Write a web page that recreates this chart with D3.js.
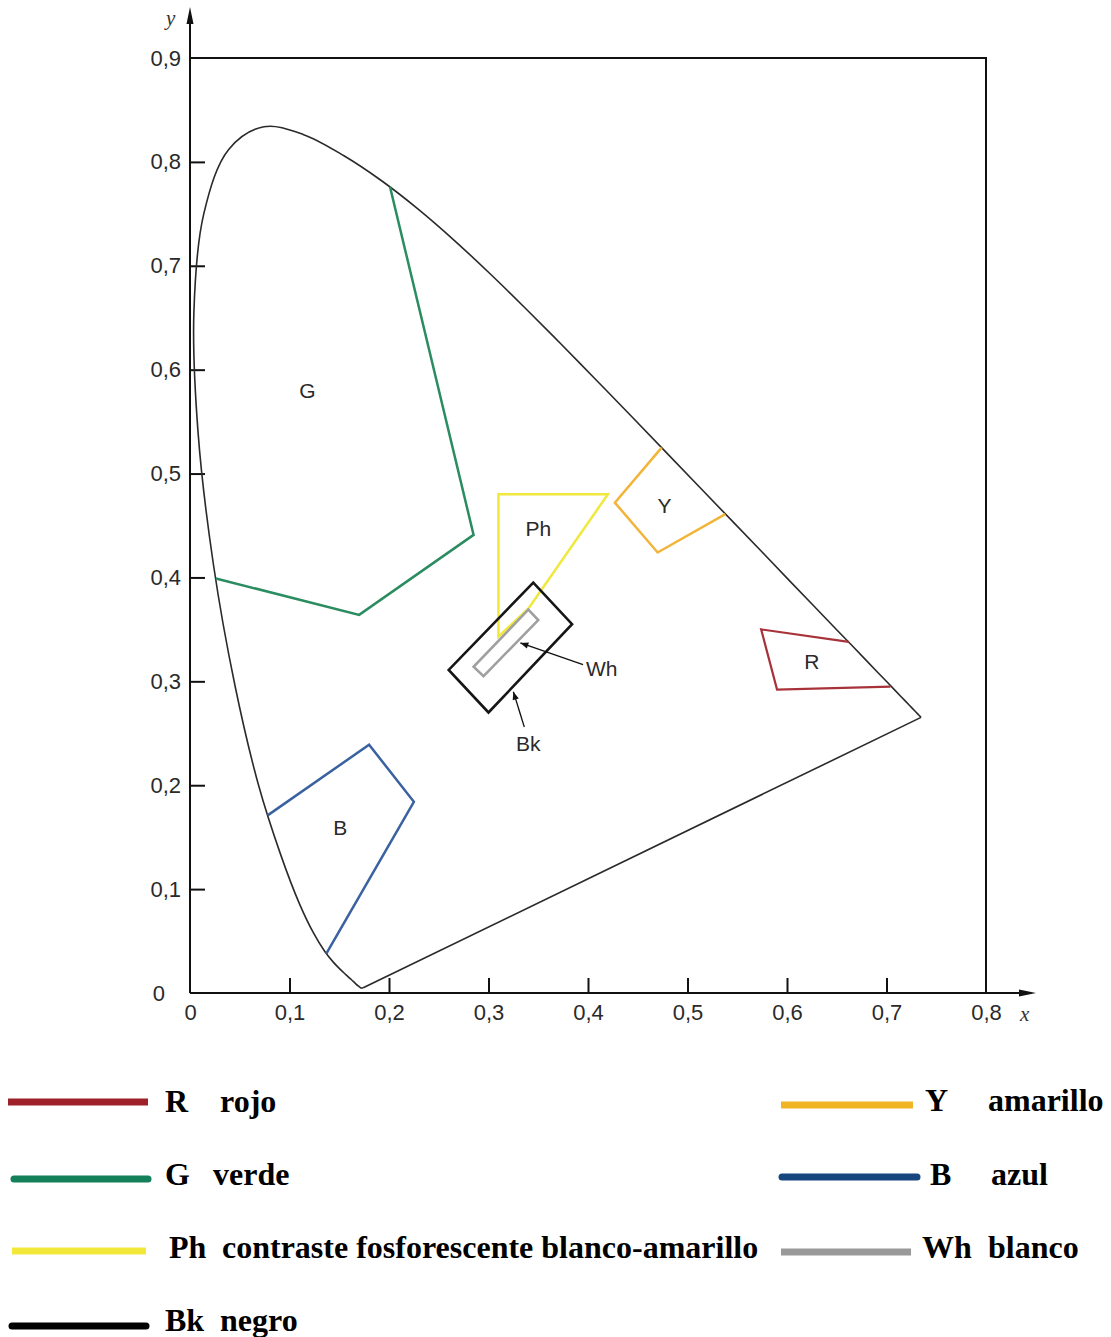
<!DOCTYPE html>
<html>
<head>
<meta charset="utf-8">
<script src="https://cdn.jsdelivr.net/npm/d3@7"></script>
<style>
  html, body { margin: 0; padding: 0; background: #fff; }
  svg { display: block; }
</style>
</head>
<body>
<svg id="chart" width="1111" height="1337"></svg>
<script>
// ---------------- DATA ----------------
// CIE 1931 spectral locus (380–700 nm, 5 nm steps)
const locusX = [0.1741,0.1740,0.1738,0.1736,0.1733,0.1730,0.1726,0.1721,0.1714,0.1703,0.1689,0.1669,0.1644,0.1611,0.1566,0.1510,0.1440,0.1355,0.1241,0.1096,0.0913,0.0687,0.0454,0.0235,0.0082,0.0039,0.0139,0.0389,0.0743,0.1142,0.1547,0.1929,0.2296,0.2658,0.3016,0.3373,0.3731,0.4087,0.4441,0.4788,0.5125,0.5448,0.5752,0.6029,0.6270,0.6482,0.6658,0.6801,0.6915,0.7006,0.7079,0.7140,0.7190,0.7230,0.7260,0.7283,0.7300,0.7311,0.7320,0.7327,0.7334,0.7340,0.7344,0.7346,0.7347];
const locusY = [0.0050,0.0050,0.0049,0.0049,0.0048,0.0048,0.0048,0.0048,0.0051,0.0058,0.0069,0.0086,0.0109,0.0138,0.0177,0.0227,0.0297,0.0399,0.0578,0.0868,0.1327,0.2007,0.2950,0.4127,0.5384,0.6548,0.7502,0.8120,0.8338,0.8262,0.8059,0.7816,0.7543,0.7243,0.6923,0.6589,0.6245,0.5896,0.5547,0.5202,0.4866,0.4544,0.4242,0.3965,0.3725,0.3514,0.3340,0.3197,0.3083,0.2993,0.2920,0.2859,0.2809,0.2770,0.2740,0.2717,0.2700,0.2689,0.2680,0.2673,0.2666,0.2660,0.2656,0.2654,0.2653];

// colour regions (x, y chromaticity corner points)
const greenX = [0.201, 0.285, 0.170, 0.026];
const greenY = [0.776, 0.441, 0.364, 0.399];
const blueX  = [0.078, 0.180, 0.225, 0.137];
const blueY  = [0.171, 0.239, 0.184, 0.038];
const yellowX = [0.474, 0.427, 0.470, 0.538];
const yellowY = [0.525, 0.472, 0.424, 0.461];
const redX = [0.662, 0.574, 0.590, 0.704];
const redY = [0.338, 0.350, 0.292, 0.295];
const phX = [0.310, 0.420, 0.340, 0.310];
const phY = [0.480, 0.480, 0.370, 0.343];
const blackX = [0.345, 0.384, 0.300, 0.260];
const blackY = [0.395, 0.355, 0.270, 0.311];
const whiteX = [0.340, 0.350, 0.295, 0.285];
const whiteY = [0.369, 0.359, 0.305, 0.314];

// region labels
const labelText = ["G", "Ph", "Y", "R", "B"];
const labelX = [0.118, 0.350, 0.477, 0.625, 0.151];
const labelY = [0.580, 0.447, 0.469, 0.319, 0.159];

// pointer labels (text position, arrow tip)
const pointerText = ["Wh", "Bk"];
const pointerTextX = [0.398, 0.340];
const pointerTextY = [0.312, 0.240];
const pointerFromX = [0.395, 0.336];
const pointerFromY = [0.316, 0.256];
const pointerTipX = [0.332, 0.325];
const pointerTipY = [0.337, 0.290];

// axis ticks
const xTicks = [0, 0.1, 0.2, 0.3, 0.4, 0.5, 0.6, 0.7, 0.8];
const yTicks = [0, 0.1, 0.2, 0.3, 0.4, 0.5, 0.6, 0.7, 0.8, 0.9];

// legend
const legendKey  = ["R", "G", "Ph", "Bk", "Y", "B", "Wh"];
const legendName = ["rojo", "verde", "contraste fosforescente blanco-amarillo", "negro", "amarillo", "azul", "blanco"];

// ---------------- DRAW ----------------
const svg = d3.select("#chart");
const x = d3.scaleLinear().domain([0, 0.8]).range([190, 986]);
const y = d3.scaleLinear().domain([0, 0.9]).range([993, 58]);

const fmt = d => d === 0 ? "0" : d3.format(".1f")(d).replace(".", ",");

// plot frame (top / right)
svg.append("path")
  .attr("d", `M${x(0)},${y(0.9)}H${x(0.8)}V${y(0)}`)
  .attr("fill", "none").attr("stroke", "#111").attr("stroke-width", 2);

// axes with inside ticks
const yAxis = d3.axisLeft(y).tickValues(yTicks).tickFormat(fmt)
  .tickSizeInner(-15).tickSizeOuter(0).tickPadding(9);
const xAxis = d3.axisBottom(x).tickValues(xTicks).tickFormat(fmt)
  .tickSizeInner(-15).tickSizeOuter(0).tickPadding(11);

const gy = svg.append("g").attr("transform", `translate(${x(0)},0)`).call(yAxis);
const gx = svg.append("g").attr("transform", `translate(0,${y(0)})`).call(xAxis);
[gy, gx].forEach(g => {
  g.select(".domain").remove();
  g.selectAll(".tick line").attr("stroke", "#111").attr("stroke-width", 2);
  g.selectAll(".tick text").attr("fill", "#2a2a2a")
    .style("font-family", "'Liberation Sans', Arial, sans-serif").style("font-size", "22px");
});
gy.selectAll(".tick").filter(d => d === 0).select("text").attr("x", -25);
gy.selectAll(".tick").filter(d => d === 0 || d === 0.9).select("line").remove();
gx.selectAll(".tick").filter(d => d === 0 || d === 0.8).select("line").remove();

// axis lines with arrowheads
svg.append("line").attr("x1", x(0)).attr("y1", y(0)).attr("x2", x(0)).attr("y2", 20)
  .attr("stroke", "#111").attr("stroke-width", 2);
svg.append("path").attr("d", `M${x(0)},7L${x(0) - 3.5},24L${x(0) + 3.5},24Z`).attr("fill", "#111");
svg.append("line").attr("x1", x(0)).attr("y1", y(0)).attr("x2", 1022).attr("y2", y(0))
  .attr("stroke", "#111").attr("stroke-width", 2);
svg.append("path").attr("d", `M1036,${y(0)}L1019,${y(0) - 3.5}L1019,${y(0) + 3.5}Z`).attr("fill", "#111");

svg.append("text").attr("x", 166).attr("y", 25).text("y")
  .style("font-family", "'Liberation Serif', 'Times New Roman', serif")
  .style("font-style", "italic").style("font-size", "21px").attr("fill", "#333");
svg.append("text").attr("x", 1020).attr("y", 1021).text("x")
  .style("font-family", "'Liberation Serif', 'Times New Roman', serif")
  .style("font-style", "italic").style("font-size", "21px").attr("fill", "#333");

// spectral locus
const locus = locusX.map((v, i) => [v, locusY[i]]);
svg.append("path")
  .attr("d", d3.line().x(d => x(d[0])).y(d => y(d[1])).curve(d3.curveCatmullRom.alpha(0.5))(locus))
  .attr("fill", "none").attr("stroke", "#2a2a2a").attr("stroke-width", 1.6);
svg.append("line")
  .attr("x1", x(locus[0][0])).attr("y1", y(locus[0][1]))
  .attr("x2", x(locus[locus.length - 1][0])).attr("y2", y(locus[locus.length - 1][1]))
  .attr("stroke", "#2a2a2a").attr("stroke-width", 1.6);

// regions
const poly = (xs, ys) => xs.map((v, i) => [x(v), y(ys[i])]);
const lineGen = d3.line();
function drawRegion(xs, ys, color, closed, w) {
  svg.append("path")
    .attr("d", lineGen(poly(xs, ys)) + (closed ? "Z" : ""))
    .attr("fill", "none").attr("stroke", color).attr("stroke-width", w)
    .attr("stroke-linejoin", "miter");
}
drawRegion(greenX, greenY, "#2b8c60", false, 2.5);
drawRegion(blueX, blueY, "#3a62a0", false, 2.5);
drawRegion(yellowX, yellowY, "#f3b43a", false, 2.5);
drawRegion(redX, redY, "#a8323a", false, 2.2);
drawRegion(phX, phY, "#f0e83c", true, 2.5);
drawRegion(blackX, blackY, "#161616", true, 2.6);
drawRegion(whiteX, whiteY, "#a0a0a0", true, 2.6);

// region labels
svg.selectAll("text.rlab").data(labelText).join("text").attr("class", "rlab")
  .attr("x", (d, i) => x(labelX[i])).attr("y", (d, i) => y(labelY[i]))
  .attr("text-anchor", "middle").attr("dy", "0.36em")
  .style("font-family", "'Liberation Sans', Arial, sans-serif").style("font-size", "21px")
  .attr("fill", "#2a2a2a").text(d => d);

// pointer labels with arrows
svg.append("defs").append("marker").attr("id", "arr")
  .attr("viewBox", "0 0 10 10").attr("refX", 10).attr("refY", 5)
  .attr("markerWidth", 10).attr("markerHeight", 8).attr("markerUnits", "userSpaceOnUse")
  .attr("orient", "auto")
  .append("path").attr("d", "M0,1L10,5L0,9Z").attr("fill", "#111");
pointerText.forEach((t, i) => {
  svg.append("line")
    .attr("x1", x(pointerFromX[i])).attr("y1", y(pointerFromY[i]))
    .attr("x2", x(pointerTipX[i])).attr("y2", y(pointerTipY[i]))
    .attr("stroke", "#111").attr("stroke-width", 1.3).attr("marker-end", "url(#arr)");
});
svg.selectAll("text.plab").data(pointerText).join("text").attr("class", "plab")
  .attr("x", (d, i) => x(pointerTextX[i])).attr("y", (d, i) => y(pointerTextY[i]))
  .attr("text-anchor", (d, i) => i === 0 ? "start" : "middle").attr("dy", "0.36em")
  .style("font-family", "'Liberation Sans', Arial, sans-serif").style("font-size", "21px")
  .attr("fill", "#2a2a2a").text(d => d);

// ---------------- LEGEND ----------------
const legendColor = ["#9e2129", "#13805a", "#f2e83a", "#000000", "#f0b524", "#17467f", "#999999"];
const legendLayout = [
  { x1: 8,   x2: 148, ly: 1102, kx: 165, nx: 220, by: 1112 },
  { x1: 14,  x2: 148, ly: 1179, kx: 165, nx: 213, by: 1185 },
  { x1: 12,  x2: 146, ly: 1251, kx: 169, nx: 222, by: 1258 },
  { x1: 12,  x2: 146, ly: 1326, kx: 165, nx: 220, by: 1331 },
  { x1: 781, x2: 913, ly: 1105, kx: 925, nx: 988, by: 1111 },
  { x1: 782, x2: 917, ly: 1177, kx: 930, nx: 991, by: 1185 },
  { x1: 781, x2: 911, ly: 1252, kx: 922, nx: 988, by: 1258 }
];
const lg = svg.append("g");
legendKey.forEach((k, i) => {
  const L = legendLayout[i];
  lg.append("line").attr("x1", L.x1).attr("x2", L.x2).attr("y1", L.ly).attr("y2", L.ly)
    .attr("stroke", legendColor[i]).attr("stroke-width", 7)
    .attr("stroke-linecap", i === 1 || i === 3 || i === 5 ? "round" : "butt");
  lg.append("text").attr("x", L.kx).attr("y", L.by).text(k)
    .style("font-family", "'Liberation Serif', 'Times New Roman', serif")
    .style("font-weight", "bold").style("font-size", "32px").attr("fill", "#000");
  lg.append("text").attr("x", L.nx).attr("y", L.by).text(legendName[i])
    .style("font-family", "'Liberation Serif', 'Times New Roman', serif")
    .style("font-weight", "bold").style("font-size", "32px").attr("fill", "#000");
});
</script>
</body>
</html>
